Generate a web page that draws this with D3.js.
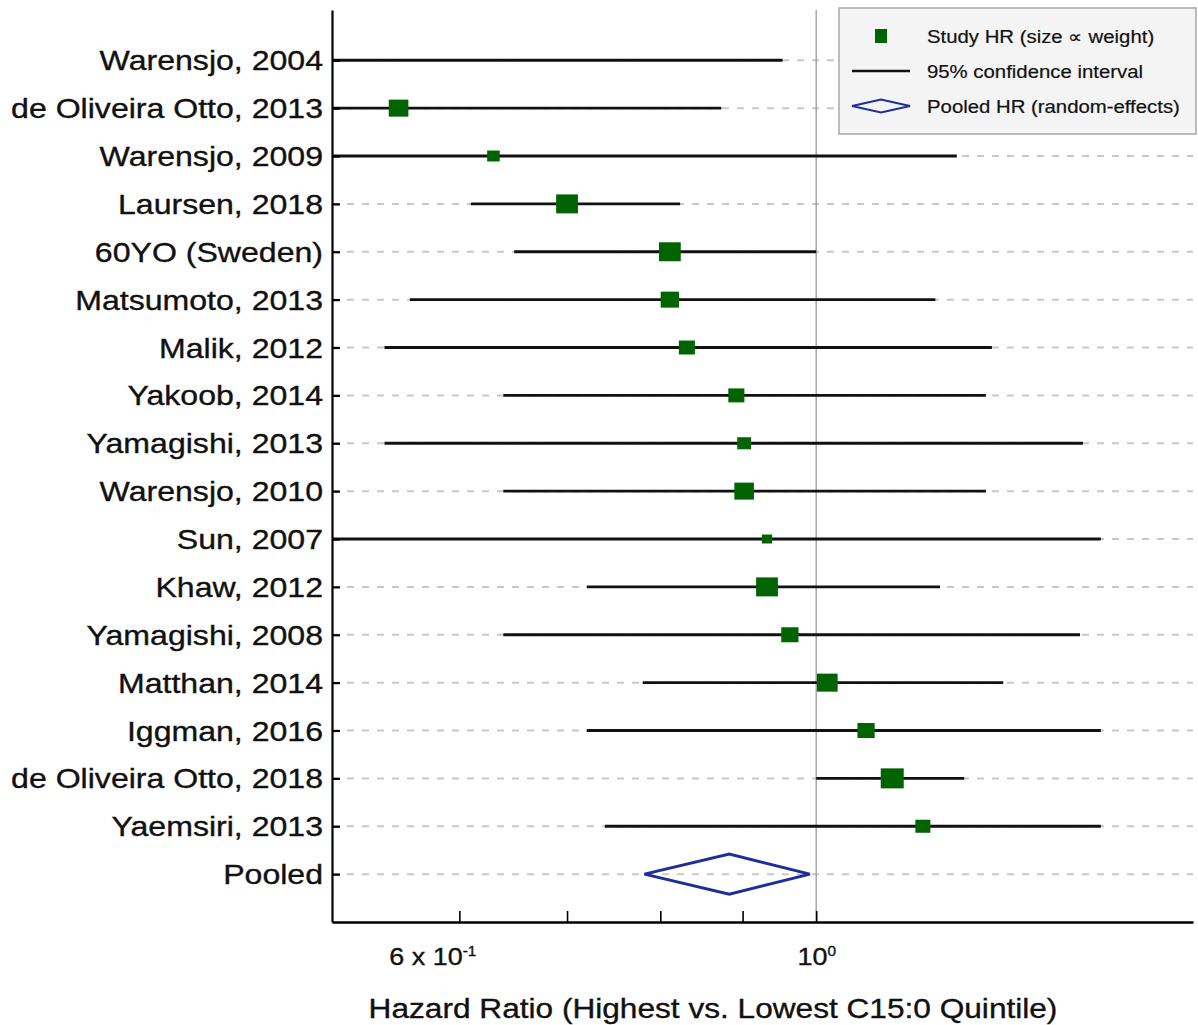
<!DOCTYPE html>
<html>
<head>
<meta charset="utf-8">
<script src="https://cdn.jsdelivr.net/npm/d3@7"></script>
<style>
  body { margin: 0; background: #fff; }
  svg { display: block; font-family: "Liberation Sans", Arial, Helvetica, sans-serif; }
  text { stroke: #111; stroke-width: 0.35px; }
</style>
</head>
<body>
<svg id="forest" width="1198" height="1025"></svg>
<script>
// studies, top to bottom
const studies = [
  "Warensjo, 2004", "de Oliveira Otto, 2013", "Warensjo, 2009", "Laursen, 2018",
  "60YO (Sweden)", "Matsumoto, 2013", "Malik, 2012", "Yakoob, 2014",
  "Yamagishi, 2013", "Warensjo, 2010", "Sun, 2007", "Khaw, 2012",
  "Yamagishi, 2008", "Matthan, 2014", "Iggman, 2016", "de Oliveira Otto, 2018",
  "Yaemsiri, 2013"
];
const hr     = [0.47, 0.550, 0.630, 0.700, 0.811, 0.811, 0.831, 0.892, 0.902, 0.902, 0.932, 0.932, 0.963, 1.016, 1.074, 1.115, 1.165];
const lower  = [0.23, 0.40,  0.45,  0.610, 0.649, 0.559, 0.539, 0.639, 0.539, 0.639, 0.45,  0.720, 0.639, 0.780, 0.720, 1.000, 0.739];
const upper  = [0.953, 0.873, 1.223, 0.823, 1.000, 1.186, 1.286, 1.275, 1.465, 1.275, 1.503, 1.194, 1.459, 1.307, 1.503, 1.236, 1.503];
const weight = [2.9, 5.8, 2.4, 7.2, 7.2, 5.1, 3.9, 3.9, 2.9, 5.8, 1.6, 7.2, 4.5, 6.5, 4.5, 8.0, 3.4];

const pooledLabel = "Pooled";
const pooled = [0.883, 0.782, 0.991]; // HR, lower, upper

const tickVals = [0.6, 0.7, 0.8, 0.9, 1.0];
const tickBase = ["6 x 10", "", "", "", "10"];
const tickSup  = ["-1", "", "", "", "0"];

const legendLabels = ["Study HR (size \u221D weight)", "95% confidence interval", "Pooled HR (random-effects)"];

const svg = d3.select("#forest");
const sx = 1.15;           // the original is a bit wide, stretch text to match
const green = "#006400", blue = "#1c2e9a", ink = "#111";

const rows = studies.concat([pooledLabel]);
const x = d3.scaleLog().domain([0.5, 1.715]).range([332, 1193]);
const y = d3.scaleLinear().domain([-1.05, 18]).range([10, 922]);
const size = d3.scaleSqrt().domain([0, 8]).range([0, 20]);

svg.append("clipPath").attr("id", "plotclip")
  .append("rect").attr("x", 333).attr("y", 0).attr("width", 1193 - 333).attr("height", 922);

// dashed row guides
svg.append("g").selectAll("line")
  .data(rows)
  .join("line")
  .attr("x1", x.range()[0]).attr("x2", x.range()[1])
  .attr("y1", (d, i) => y(i)).attr("y2", (d, i) => y(i))
  .attr("stroke", "#c8c8c8").attr("stroke-width", 2).attr("stroke-dasharray", "7,8");

// null line
svg.append("line")
  .attr("x1", x(1)).attr("x2", x(1)).attr("y1", y.range()[0]).attr("y2", y.range()[1])
  .attr("stroke", "#9a9a9a").attr("stroke-width", 1.3);

const plot = svg.append("g").attr("clip-path", "url(#plotclip)");

plot.selectAll("line.ci")
  .data(studies)
  .join("line")
  .attr("class", "ci")
  .attr("x1", (d, i) => x(lower[i])).attr("x2", (d, i) => x(upper[i]))
  .attr("y1", (d, i) => y(i)).attr("y2", (d, i) => y(i))
  .attr("stroke", "#111").attr("stroke-width", 2.8);

plot.selectAll("rect.hr")
  .data(studies)
  .join("rect")
  .attr("class", "hr")
  .attr("x", (d, i) => x(hr[i]) - size(weight[i]) * sx / 2)
  .attr("y", (d, i) => y(i) - size(weight[i]) / 2)
  .attr("width", (d, i) => size(weight[i]) * sx)
  .attr("height", (d, i) => size(weight[i]))
  .attr("fill", green);

// pooled diamond
const py = y(studies.length);
plot.append("path")
  .attr("d", `M${x(pooled[1])},${py} L${x(pooled[0])},${py - 20} L${x(pooled[2])},${py} L${x(pooled[0])},${py + 20} Z`)
  .attr("fill", "none").attr("stroke", blue).attr("stroke-width", 3);

// y axis with study labels
const yAxis = svg.append("g")
  .attr("transform", `translate(${x.range()[0]},0)`)
  .call(d3.axisLeft(y).tickValues(d3.range(rows.length)).tickFormat(i => rows[i])
    .tickSizeInner(-8).tickSizeOuter(0).tickPadding(9));
yAxis.select(".domain").attr("stroke", "#000").attr("stroke-width", 2.2);
yAxis.selectAll(".tick line").attr("stroke", "#000").attr("stroke-width", 2.2);
yAxis.selectAll(".tick text")
  .attr("font-size", 27.9).attr("fill", ink).attr("font-family", "Liberation Sans, Arial, sans-serif")
  .attr("transform", `scale(${sx},1)`).attr("x", -9 / sx).attr("dy", "0.34em");

// x axis
const xAxis = svg.append("g")
  .attr("transform", `translate(0,${y.range()[1]})`)
  .call(d3.axisBottom(x).tickValues(tickVals).tickFormat(() => "")
    .tickSizeInner(-11).tickSizeOuter(0).tickPadding(26));
xAxis.select(".domain").attr("stroke", "#000").attr("stroke-width", 2.4);
xAxis.selectAll(".tick line").attr("stroke", "#000").attr("stroke-width", 1.6);
xAxis.selectAll(".tick text")
  .attr("font-size", 24.5).attr("fill", ink).attr("font-family", "Liberation Sans, Arial, sans-serif")
  .attr("transform", `scale(${sx - 0.05},1)`)
  .each(function (d, i) {
    const t = d3.select(this);
    t.append("tspan").text(tickBase[i]);
    t.append("tspan").attr("font-size", 14).attr("dy", "-0.7em").text(tickSup[i]);
  })
  .attr("text-anchor", d => d < 1 ? "end" : "middle")
  .attr("dx", d => d < 1 ? 15 : 0);

svg.append("text")
  .attr("transform", `translate(713,1018) scale(${sx},1)`)
  .attr("text-anchor", "middle")
  .attr("font-size", 27.5).attr("fill", ink)
  .text("Hazard Ratio (Highest vs. Lowest C15:0 Quintile)");

// legend
const lg = svg.append("g");
lg.append("rect")
  .attr("x", 839).attr("y", 8).attr("width", 357).attr("height", 126)
  .attr("fill", "#f4f4f4").attr("stroke", "#a8a8a8").attr("stroke-width", 1.5);
lg.append("rect")
  .attr("x", 875).attr("y", 29).attr("width", 12).attr("height", 14).attr("fill", green);
lg.append("line")
  .attr("x1", 852).attr("x2", 910).attr("y1", 71).attr("y2", 71)
  .attr("stroke", "#111").attr("stroke-width", 2.5);
lg.append("path")
  .attr("d", "M852,106 L881,99.5 L910,106 L881,112.5 Z")
  .attr("fill", "none").attr("stroke", blue).attr("stroke-width", 1.8);
lg.selectAll("text.lab")
  .data(legendLabels)
  .join("text")
  .attr("class", "lab")
  .attr("transform", (d, i) => `translate(927,${43 + i * 35}) scale(${sx - 0.05},1)`)
  .attr("font-size", 18.5).attr("fill", ink)
  .style("stroke-width", "0.2px")
  .text(d => d);
</script>
</body>
</html>
